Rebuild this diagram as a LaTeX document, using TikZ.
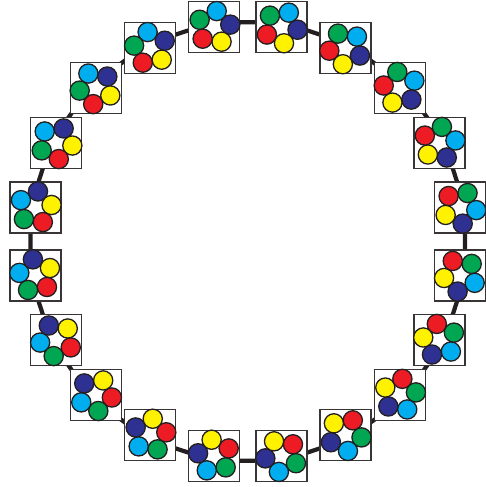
\documentclass[tikz,border=0pt]{standalone}
\usetikzlibrary{calc}
\definecolor{cLB}{HTML}{00AEEF}
\definecolor{cDB}{HTML}{2E3192}
\definecolor{cY}{HTML}{FFF200}
\definecolor{cR}{HTML}{ED1C24}
\definecolor{cG}{HTML}{00A651}
\definecolor{ink}{HTML}{231F20}
\tikzset{
  link/.style={draw=ink, line width=4.2pt, line join=round},
  cell/.style={draw=ink!90, line width=1.3pt, fill=white, rectangle, minimum size=51pt, inner sep=0pt},
  ball/.style={draw=ink, line width=1.3pt, circle, minimum size=19.2pt, inner sep=0pt}
}
\begin{document}
\begin{tikzpicture}[x=1pt,y=1pt]
\useasboundingbox (0,0) rectangle (485,487);
\coordinate (O) at (247.8,245.5);
\foreach \k in {0,...,19} {
  \pgfmathsetmacro\t{9+18*\k}
  \coordinate (p\k) at ($(O)+(\t:220 and 222)$);
}
\draw[link] (p0) \foreach \k in {1,...,19}{ -- (p\k)} -- cycle;
\foreach \k in {0,...,19} {
  \pgfmathsetmacro\t{9+18*\k}
  \pgfmathsetmacro\a{\t-18}
  \node[cell] (b\k) at ($(O)+(\t:215 and 217)$) {};
  \node[ball, fill=cLB] (b\k lb) at ($(b\k)+(\a:16.3)$) {};
  \node[ball, fill=cDB] (b\k db) at ($(b\k)+(\a-72:16.3)$) {};
  \node[ball, fill=cY]  (b\k y)  at ($(b\k)+(\a-144:16.3)$) {};
  \node[ball, fill=cR]  (b\k r)  at ($(b\k)+(\a-216:16.3)$) {};
  \node[ball, fill=cG]  (b\k g)  at ($(b\k)+(\a-288:16.3)$) {};
}
\end{tikzpicture}
\end{document}
